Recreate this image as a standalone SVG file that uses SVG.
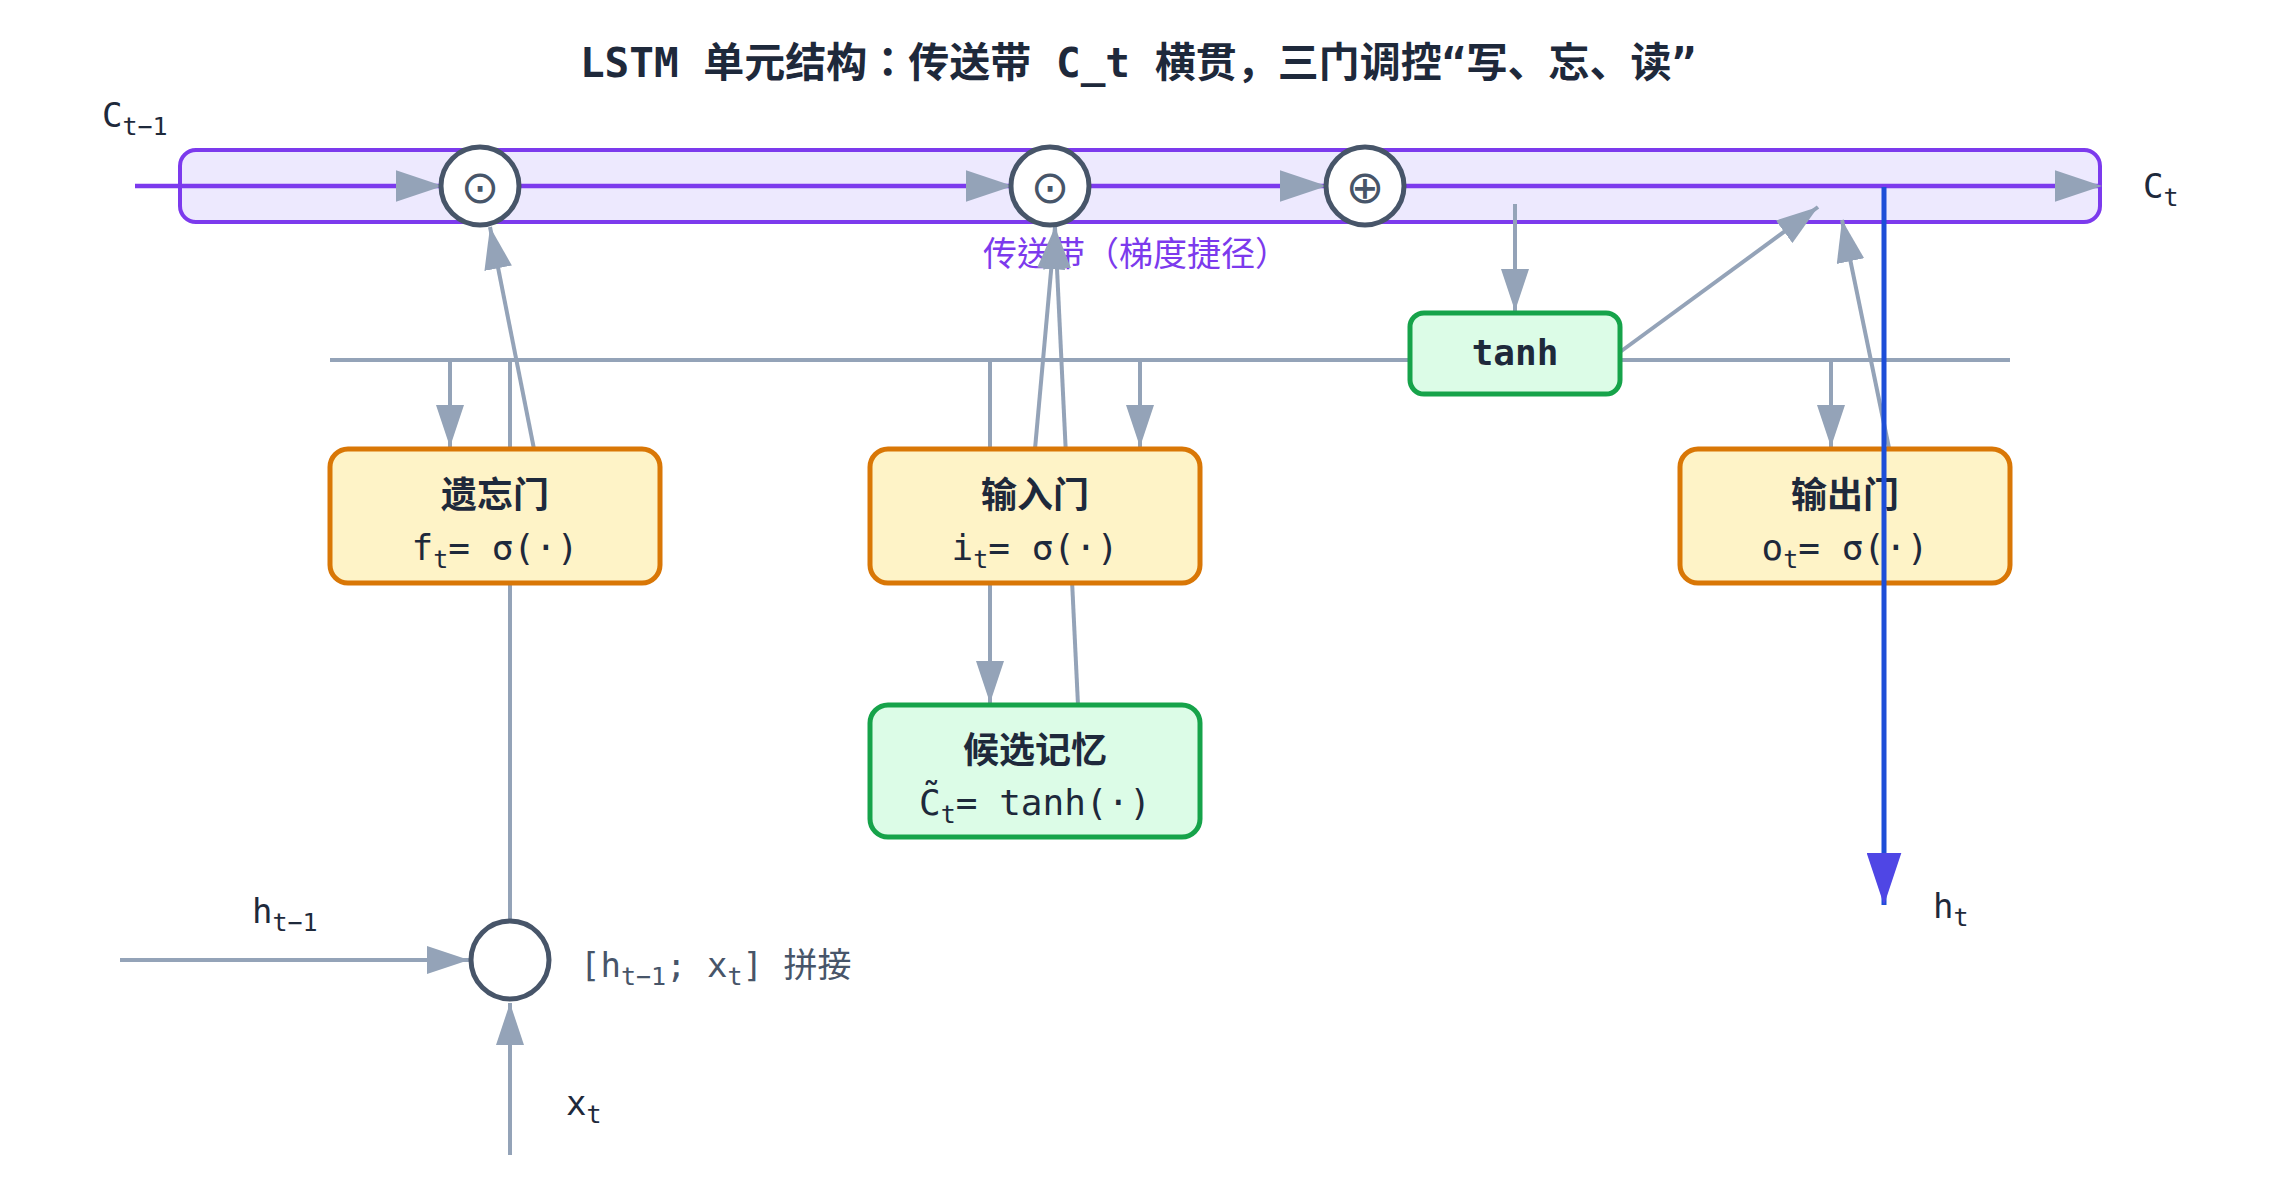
<svg xmlns="http://www.w3.org/2000/svg" width="2280" height="1200" viewBox="0 0 2280 1200">
<defs>
<style>
.t{font-family:"DejaVu Sans Mono","Noto Sans CJK JP",monospace;fill:#1e293b}
.title{font-size:41px;font-weight:bold;text-anchor:middle}
.lab{font-size:34px}
.sub{font-size:25px}
.gtitle{font-family:"Noto Sans CJK SC",sans-serif;font-size:36px;font-weight:bold;text-anchor:middle;fill:#1e293b}
.gform{font-size:36px;text-anchor:middle}
.gate{fill:#fef3c7;stroke:#d97706;stroke-width:5}
.act{fill:#dcfce7;stroke:#16a34a;stroke-width:5}
.op{fill:#ffffff;stroke:#475569;stroke-width:5}
.sym{font-family:"DejaVu Sans",sans-serif;font-size:46px;fill:#475569;text-anchor:middle}
.g{stroke:#94a3b8;stroke-width:4;fill:none}
.ga{stroke:#94a3b8;stroke-width:4;fill:none;marker-end:url(#ag)}
.belt{stroke:#7c3aed;stroke-width:4.5;fill:none;marker-end:url(#ag)}
</style>
<marker id="ag" viewBox="0 0 10.5 7" refX="10.5" refY="3.5" markerWidth="10.5" markerHeight="7" orient="auto" markerUnits="strokeWidth">
<path d="M0,0 L10.5,3.5 L0,7 z" fill="#94a3b8"/>
</marker>
<marker id="ab" viewBox="0 0 10.5 7" refX="10.5" refY="3.5" markerWidth="10.5" markerHeight="7" orient="auto" markerUnits="strokeWidth">
<path d="M0,0 L10.5,3.5 L0,7 z" fill="#4f46e5"/>
</marker>
</defs>
<rect width="2280" height="1200" fill="#ffffff"/>

<text class="t title" x="1138" y="77">LSTM 单元结构：传送带 C_t 横贯，三门调控“写、忘、读”</text>

<g id="belt">
<rect x="180" y="150" width="1920" height="72" rx="16" fill="#ede9fe" stroke="#7c3aed" stroke-width="4"/>
<text x="983" y="266" font-family="Noto Sans CJK TC, sans-serif" font-size="34" fill="#7c3aed">传送带（梯度捷径）</text>
</g>

<g id="connectors">
<line class="belt" x1="135" y1="186" x2="443" y2="186"/>
<line class="belt" x1="519" y1="186" x2="1013" y2="186"/>
<line class="belt" x1="1089" y1="186" x2="1327" y2="186"/>
<line class="belt" x1="1403" y1="186" x2="2102" y2="186"/>
<line class="g" x1="330" y1="360" x2="2010" y2="360"/>
<line class="ga" x1="450" y1="360" x2="450" y2="447"/>
<line class="ga" x1="1140" y1="360" x2="1140" y2="447"/>
<line class="ga" x1="1831" y1="360" x2="1831" y2="447"/>
<line class="g" x1="510" y1="919" x2="510" y2="360"/>
<line class="ga" x1="990" y1="360" x2="990" y2="703"/>
<line class="ga" x1="534" y1="449" x2="490" y2="227"/>
<line class="ga" x1="1035" y1="449" x2="1055" y2="227"/>
<line class="ga" x1="1078" y1="705" x2="1055" y2="227"/>
<line class="ga" x1="1515" y1="204" x2="1515" y2="311"/>
<line class="ga" x1="1620" y1="352" x2="1818" y2="207"/>
<line class="ga" x1="1889" y1="448" x2="1842" y2="220"/>
<line class="ga" x1="120" y1="960" x2="469" y2="960"/>
<line class="ga" x1="510" y1="1155" x2="510" y2="1003"/>
</g>

<g id="mul-forget">
<circle class="op" cx="480" cy="186" r="39"/>
<text class="sym" x="480" y="203">⊙</text>
</g>
<g id="mul-input">
<circle class="op" cx="1050" cy="186" r="39"/>
<text class="sym" x="1050" y="203">⊙</text>
</g>
<g id="add-cell">
<circle class="op" cx="1365" cy="186" r="39"/>
<text class="sym" x="1365" y="203">⊕</text>
</g>

<g id="forget-gate">
<rect class="gate" x="330" y="449" width="330" height="134" rx="18"/>
<text class="gtitle" x="495" y="508">遗忘门</text>
<text class="t gform" x="495" y="560">f<tspan class="sub" dy="8">t</tspan><tspan dy="-8">= σ(·)</tspan></text>
</g>
<g id="input-gate">
<rect class="gate" x="870" y="449" width="330" height="134" rx="18"/>
<text class="gtitle" x="1035" y="508">输入门</text>
<text class="t gform" x="1035" y="560">i<tspan class="sub" dy="8">t</tspan><tspan dy="-8">= σ(·)</tspan></text>
</g>
<g id="output-gate">
<rect class="gate" x="1680" y="449" width="330" height="134" rx="18"/>
<text class="gtitle" x="1845" y="508">输出门</text>
<text class="t gform" x="1845" y="560">o<tspan class="sub" dy="8">t</tspan><tspan dy="-8">= σ(·)</tspan></text>
</g>
<g id="tanh-node">
<rect class="act" x="1410" y="313" width="210" height="81" rx="14"/>
<text class="t" x="1515" y="365" font-size="36" font-weight="bold" text-anchor="middle">tanh</text>
</g>
<g id="candidate">
<rect class="act" x="870" y="705" width="330" height="132" rx="18"/>
<text class="gtitle" x="1035" y="763">候选记忆</text>
<text class="t gform" x="1035" y="815">C̃<tspan class="sub" dy="8">t</tspan><tspan dy="-8">= tanh(·)</tspan></text>
</g>
<g id="concat">
<circle class="op" cx="510" cy="960" r="39"/>
<text class="t" x="580" y="977" font-size="34" style="fill:#475569">[h<tspan class="sub" dy="8">t−1</tspan><tspan dy="-8">; x</tspan><tspan class="sub" dy="8">t</tspan><tspan dy="-8">] 拼接</tspan></text>
</g>

<g id="output-connector">
<line x1="1884" y1="187" x2="1884" y2="905" stroke="#1d4ed8" stroke-width="5" marker-end="url(#ab)"/>
</g>

<g id="labels">
<text class="t lab" x="102" y="127">C<tspan class="sub" dy="8">t−1</tspan></text>
<text class="t lab" x="2143" y="198">C<tspan class="sub" dy="8">t</tspan></text>
<text class="t lab" x="252" y="923">h<tspan class="sub" dy="8">t−1</tspan></text>
<text class="t lab" x="566" y="1115">x<tspan class="sub" dy="8">t</tspan></text>
<text class="t lab" x="1933" y="918">h<tspan class="sub" dy="8">t</tspan></text>
</g>
</svg>
